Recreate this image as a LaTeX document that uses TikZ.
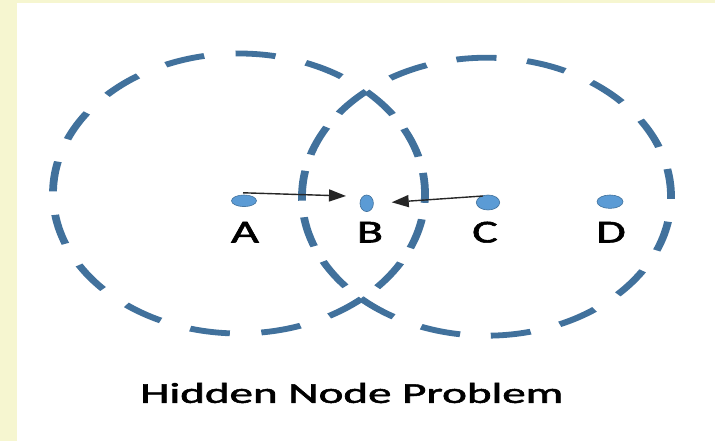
\documentclass[tikz,border=0pt]{standalone}
\usepackage{fontspec}
\setmainfont{Carlito}
% regular Carlito with a slightly heavier stroke
\newfontfamily\heavyfont[BoldFont=Carlito, BoldFeatures={FakeBold=1.6}]{Carlito}
\usetikzlibrary{arrows.meta,calc,shapes.geometric}
\definecolor{paper}{RGB}{246,246,208}
\definecolor{ring}{RGB}{65,113,156}
\definecolor{dotfill}{RGB}{91,155,213}
\begin{document}
\begin{tikzpicture}[x=1pt,y=1pt,
  rangering/.style={draw=ring, line width=5.8pt},
  station/.style={shape=ellipse, inner sep=0pt, fill=dotfill,
    draw=ring, line width=0.6pt},
  tag/.style={anchor=base, inner sep=0pt,
    font=\fontsize{32}{32}\selectfont\heavyfont\bfseries},
  msg/.style={-{Triangle[length=17pt,width=12pt]}, line width=1.4pt,
    draw=black!85}
]
\useasboundingbox (0,0) rectangle (715,441);
% page background with pale margin on the left and top
\fill[paper] (0,0) rectangle (715,441);
\fill[white] (17,0) rectangle (715,438);

% transmission ranges of A and C: dashed circles, stretched sideways.
% Each ring is split at the two crossing points so the dashes meet there.
\begin{scope}[transform canvas={xscale=1.34}]
  \coordinate (cL) at (178.36,247.5);
  \coordinate (cR) at (363.06,244.3);
  % range of A
  \draw[rangering, dash pattern=on 30pt off 23.57pt, dash phase=30pt]
    (cL) ++(46.9:138.8 and 140)
    arc[start angle=46.9, end angle=311.15, x radius=138.8, y radius=140];
  \draw[rangering, dash pattern=on 30pt off 16.6pt, dash phase=30pt]
    (cL) ++(-48.85:138.8 and 140)
    arc[start angle=-48.85, end angle=46.9, x radius=138.8, y radius=140];
  % range of C
  \draw[rangering, dash pattern=on 30pt off 23pt]
    (cR) ++(227.3:137.7 and 139)
    arc[start angle=227.3, end angle=490.7, x radius=137.7, y radius=139];
  \draw[rangering, dash pattern=on 30pt off 16.66pt]
    (cR) ++(130.7:137.7 and 139)
    arc[start angle=130.7, end angle=227.3, x radius=137.7, y radius=139];
\end{scope}

% stations
\node[station, minimum width=25pt, minimum height=11.6pt] (A) at (244,240.2) {};
\node[station, minimum width=13.4pt, minimum height=16.6pt] (B) at (366.7,237.7) {};
\node[station, minimum width=23.4pt, minimum height=15pt] (C) at (488,238.5) {};
\node[station, minimum width=26pt, minimum height=13.4pt] (D) at (610,239.3) {};

% station names
\node[tag] (la) at (245,198.5) {\scalebox{1.5}[1]{A}};
\node[tag] (lb) at (370,198.5) {\scalebox{1.5}[1]{B}};
\node[tag] (lc) at (485,198.5) {\scalebox{1.5}[1]{C}};
\node[tag] (ld) at (611,198.5) {\scalebox{1.5}[1]{D}};

% simultaneous transmissions towards B
\draw[msg] ($(A)+(-1,8)$) -- ($(B)+(-20.7,7.3)$);
\draw[msg] ($(C)+(-5,6.5)$) -- ($(B)+(25,1)$);

% caption
\node[anchor=south west, inner sep=0pt] (title) at (140,37.7)
  {\resizebox{423pt}{20pt}{\heavyfont\bfseries Hidden Node Problem}};
\end{tikzpicture}
\end{document}
